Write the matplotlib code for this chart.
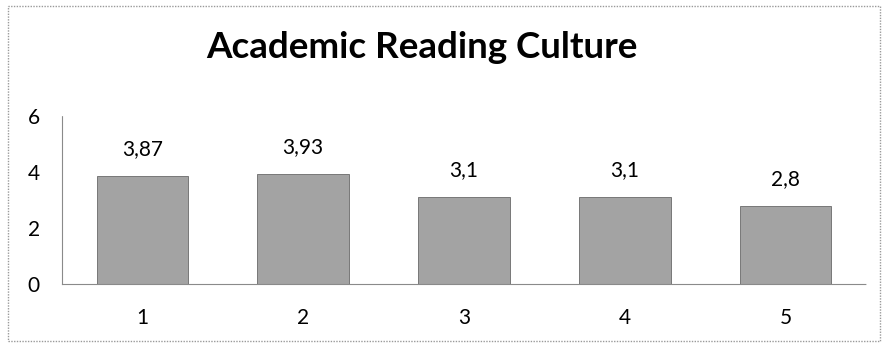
import matplotlib.pyplot as plt
from matplotlib.patches import Rectangle

# Data
categories = ["1", "2", "3", "4", "5"]
values = [3.87, 3.93, 3.1, 3.1, 2.8]
value_labels = ["3,87", "3,93", "3,1", "3,1", "2,8"]
y_ticks = [0, 2, 4, 6]

W, H = 882, 344
fig = plt.figure(figsize=(W / 100, H / 100), dpi=100)
plt.rcParams['font.family'] = ['Lato', 'DejaVu Sans']

# outer chart border
fig.patches.append(Rectangle((8 / W, 3 / H), 872 / W, 335 / H, transform=fig.transFigure,
                             fill=False, edgecolor='#9a9a9a', linewidth=1.0, linestyle=(0, (1, 1))))

ax = fig.add_axes([62 / W, (H - 284) / H, (866 - 62) / W, (284 - 116) / H])
x = range(len(categories))
bars = ax.bar(x, values, width=0.57, color='#a3a3a3', edgecolor='#6a6a6a', linewidth=0.6)

for i, (v, lab) in enumerate(zip(values, value_labels)):
    ax.annotate(lab, (i, v), xytext=(0, 12), textcoords='offset points',
                ha='center', va='bottom', fontsize=15)

ax.set_xlim(-0.5, len(categories) - 0.5)
ax.set_ylim(0, 6)
ax.set_yticks(y_ticks)
ax.set_xticks(list(x))
ax.set_xticklabels(categories)
ax.tick_params(axis='both', length=0, labelsize=15)
ax.tick_params(axis='y', pad=16)
ax.tick_params(axis='x', pad=17)

for s in ['top', 'right']:
    ax.spines[s].set_visible(False)
for s in ['left', 'bottom']:
    ax.spines[s].set_color('#8a8a8a')
    ax.spines[s].set_linewidth(0.8)
    ax.spines[s].set_linestyle((0, (1, 1)))

fig.text(422 / W, 1 - 48 / H, "Academic Reading Culture", ha='center', va='center',
         fontsize=26.5, fontweight='bold')

plt.savefig("out.png", dpi=100)
